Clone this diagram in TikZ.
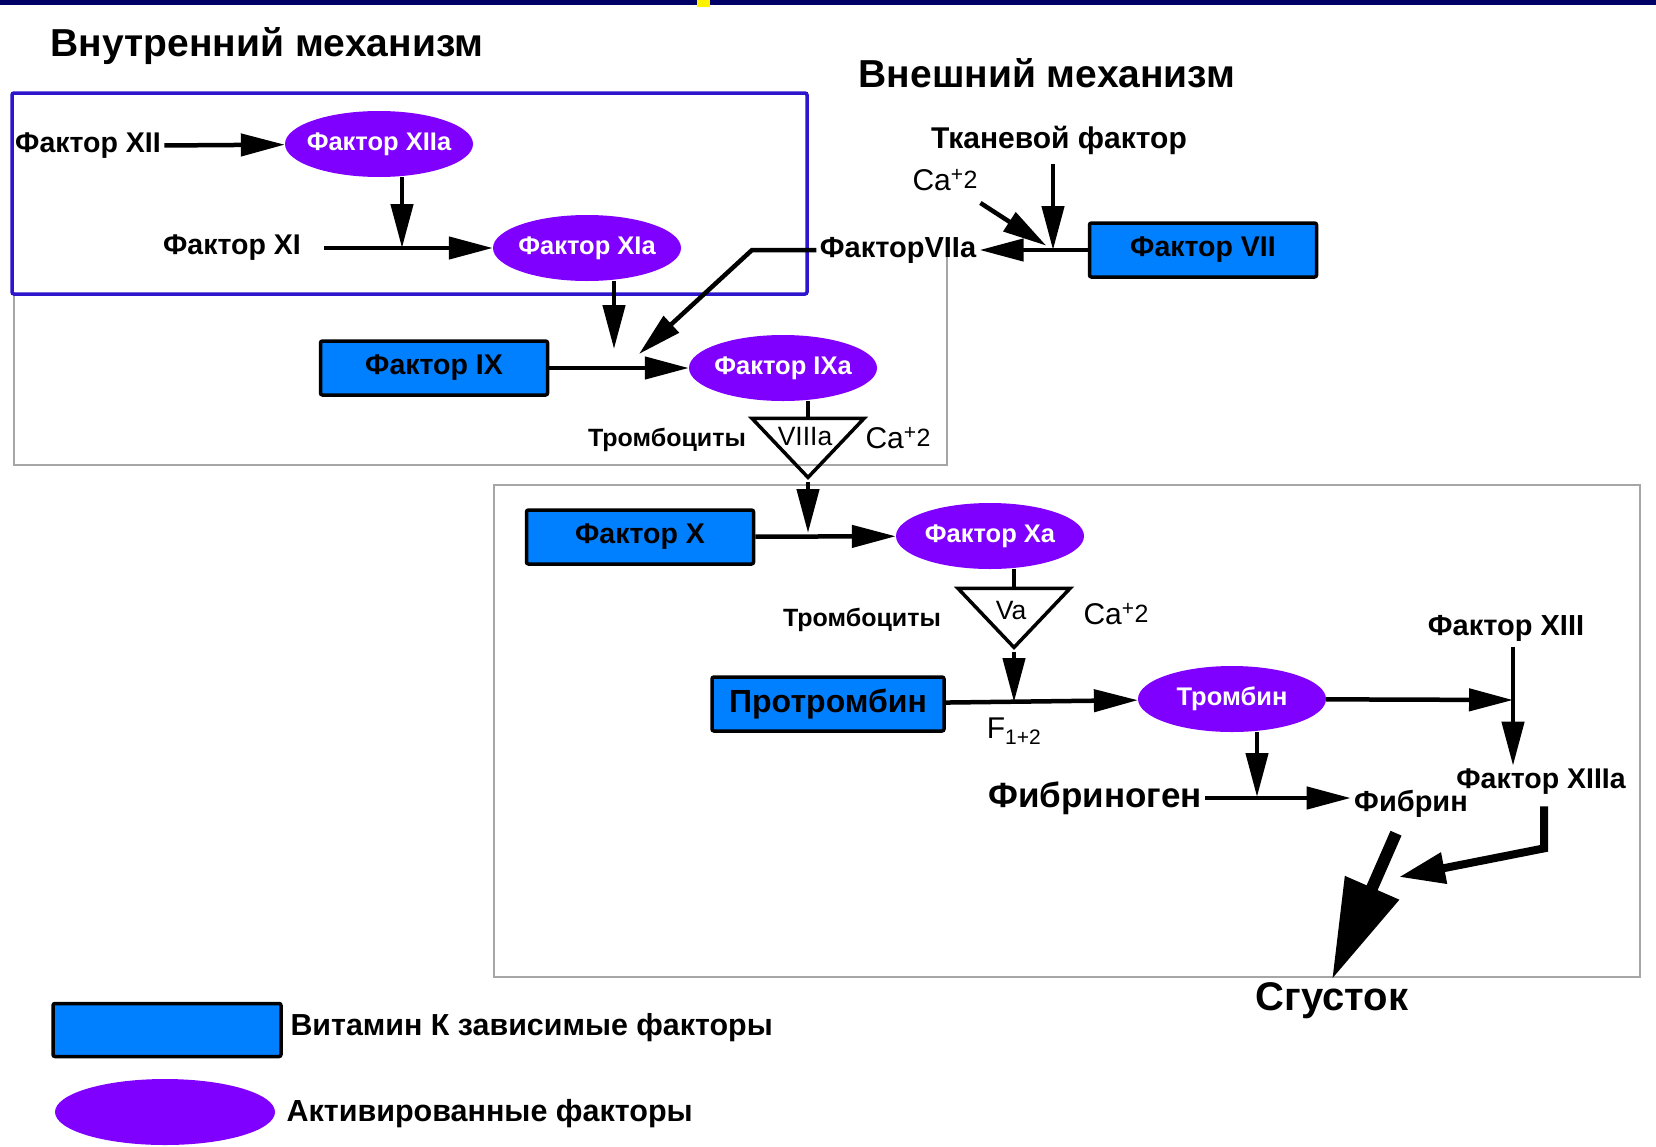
\documentclass[tikz,border=0pt]{standalone}
\usepackage{fontspec}
\setmainfont{Liberation Sans}
\usetikzlibrary{shapes.geometric,arrows.meta,calc}
\definecolor{vkblue}{RGB}{0,128,255}
\definecolor{actviolet}{RGB}{128,0,255}
\definecolor{frameblue}{RGB}{45,20,205}
\definecolor{barnavy}{RGB}{0,0,102}
\newcommand{\fsz}[1]{\fontsize{#1}{#1}\selectfont}
\newcommand{\caion}{Ca\textsuperscript{+}\raisebox{2pt}{\fsz{25}2}}

\begin{document}
\begin{tikzpicture}[x=1pt, y=-1pt,
  box/.style={draw, line width=3.5pt, fill=vkblue, rounded corners=2pt, minimum width=227pt, minimum height=54pt, font=\bfseries\fsz{28.5}},
  act/.style={ellipse, fill=actviolet, text=white, minimum width=188pt, minimum height=66pt, inner xsep=-12pt, inner ysep=0pt, font=\bfseries\fsz{25.5}},
  lbl/.style={font=\bfseries\fsz{28.5}},
  head/.style={font=\bfseries\fsz{39}},
  ca/.style={font=\fsz{30}},
  tri/.style={draw, line width=3.5pt, isosceles triangle, isosceles triangle stretches, shape border rotate=270, minimum width=112pt, minimum height=59pt, inner sep=0pt},
  trilbl/.style={font=\fsz{26.5}},
  arr/.style={line width=4.5pt, -{Triangle[length=44pt,width=22pt]}}]
\useasboundingbox (0,0) rectangle (1656,1146);
\fill[barnavy] (0,0) rectangle (1656,5);
\fill[yellow] (697,0) rectangle (710,7);

\draw[black!35, line width=2pt] (14,294) -- (14,465) -- (947,465) -- (947,257);
\draw[black!35, line width=2pt] (494,485) rectangle (1640,977);
\draw[frameblue, line width=3.5pt, rounded corners=2pt] (12,93) rectangle (807,294);

\node[head] (H1) at (267,46) {Внутренний механизм};
\node[head] (H2) at (1047,73) {Внешний механизм};

\node[lbl] (XII) at (88,146) {Фактор XII};
\node[act] (XIIa) at (379,144) {Фактор XIIa};
\node[lbl] (XI) at (232,248) {Фактор XI};
\node[act] (XIa) at (587,248) {Фактор XIa};
\node[box] (IX) at (434,368) {Фактор IX};
\node[act] (IXa) at (783,368) {Фактор IXa};
\node[lbl, font=\bfseries\fsz{29}] (VIIa) at (898,250) {ФакторVIIa};
\node[box] (VII) at (1203,250) {Фактор VII};
\node[lbl, font=\bfseries\fsz{30}] (TF) at (1059,140) {Тканевой фактор};
\node[ca] (Ca1) at (945,180) {\caion};
\node[tri, anchor=apex] (V8) at (808,482) {};
\node[trilbl] (V8t) at (805,437) {VIIIa};
\node[lbl, font=\bfseries\fsz{25}] (Tr1) at (667,440) {Тромбоциты};
\node[ca] (Ca2) at (898,438) {\caion};
\node[box] (X) at (640,537) {Фактор X};
\node[act] (Xa) at (990,536) {Фактор Xa};
\node[tri, anchor=apex] (V5) at (1014,652) {};
\node[trilbl] (V5t) at (1011,611) {Va};
\node[lbl, font=\bfseries\fsz{25}] (Tr2) at (862,620) {Тромбоциты};
\node[ca] (Ca3) at (1116,614) {\caion};
\node[box, minimum width=232pt, font=\bfseries\fsz{32}] (Pro) at (828,704) {Протромбин};
\node[act] (T) at (1232,699) {Тромбин};
\node[ca] (F12) at (1014,731) {F\textsubscript{1+2}};
\node[lbl, font=\bfseries\fsz{29}] (XIII) at (1506,628) {Фактор XIII};
\node[lbl] (XIIIa) at (1541,782) {Фактор XIIIa};
\node[lbl, font=\bfseries\fsz{35}] (Fg) at (1095,798) {Фибриноген};
\node[lbl, font=\bfseries\fsz{29}] (Fb) at (1411,804) {Фибрин};
\node[head, font=\bfseries\fsz{40}] (Cl) at (1332,1001) {Сгусток};

\coordinate (J1) at (402,248);
\coordinate (J2) at (614,349);
\coordinate (B1) at (752,250);
\coordinate (J3) at (639,354);
\coordinate (J4) at (1053,250);
\coordinate (J5) at (808,533);
\coordinate (J6) at (1014,702);
\coordinate (J7) at (1513,700);
\coordinate (J8) at (1257,797);
\coordinate (C2) at (1399,877);

\draw[arr] (XII) -- (XIIa);
\draw[arr] (XIIa.south -| J1) -- (J1);
\draw[arr] ([xshift=20pt]XI.east) -- (XIa.west);
\draw[arr] (XIa.south -| J2) -- (J2);
\draw[arr] (VIIa.west) -- (B1) -- (J3);
\draw[arr] (IX) -- (IXa);
\draw[arr] (VII) -- (VIIa);
\draw[arr] ($(TF.south -| J4)+(0,6)$) -- (J4);
\draw[arr, shorten <=16pt, shorten >=8pt] (Ca1) -- (J4);
\draw[line width=4.5pt] (IXa.south -| V8.apex) -- (V8.north);
\draw[arr] (V8.apex) -- (J5);
\draw[arr] (X) -- (Xa);
\draw[line width=4.5pt] (Xa.south -| V5.apex) -- (V5.north);
\draw[arr] (V5.apex) -- (J6);
\draw[arr] (Pro) -- (T);
\draw[arr] (T) -- (J7);
\draw[arr] ($(XIII.south -| J7)+(0,2)$) -- (XIIIa.north -| J7);
\draw[arr] (T.south -| J8) -- (J8);
\draw[arr] (Fg.east) -- (Fg.east -| Fb.west);
\draw[line width=12pt, -{Triangle[length=100pt,width=56pt]}] ($(Fb.south)+(-15,12)$) -- (Cl.north);
\draw[line width=8pt, -{Triangle[length=46pt,width=30pt]}] ($(XIIIa.south)+(3,8)$) -- ++(0,42) -- (C2);

\node[box, minimum width=228pt, minimum height=53pt] (LB) at (167,1030) {};
\node[lbl, font=\bfseries\fsz{30.4}, anchor=west] (LBt) at (287,1028) {Витамин К зависимые факторы};
\node[act, minimum width=220pt] (LE) at (165,1112) {};
\node[lbl, font=\bfseries\fsz{30.5}, anchor=west] (LEt) at (283,1114) {Активированные факторы};
\end{tikzpicture}
\end{document}
